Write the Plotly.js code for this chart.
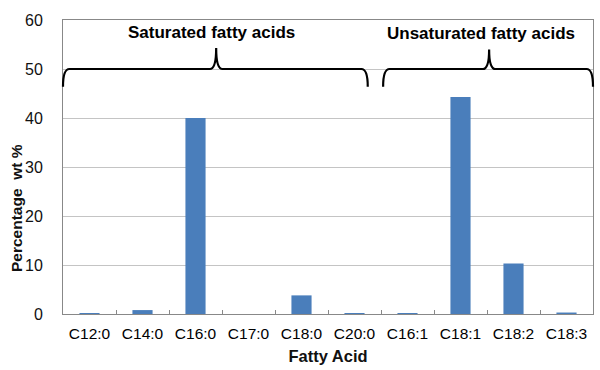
<!DOCTYPE html>
<html><head><meta charset="utf-8">
<script src="https://cdn.plot.ly/plotly-3.0.1.min.js"></script>
<style>html,body{margin:0;padding:0;background:#fff}</style>
</head><body><div id="chart" style="width:600px;height:370px"></div>
<script>
var categories = ["C12:0","C14:0","C16:0","C17:0","C18:0","C20:0","C16:1","C18:1","C18:2","C18:3"];
var percentWt = [0.2, 0.8, 40.0, 0.0, 3.8, 0.2, 0.2, 44.3, 10.3, 0.3];
var groupLabels = ["Saturated fatty acids", "Unsaturated fatty acids"];
var yTicks = [0,10,20,30,40,50,60];
var yTitle = "Percentage  wt %";

function brace(x0, x1, xm, yb, ytip, ypeak) {
  var c = 0.012;
  return 'M ' + x0 + ',' + ytip + ' Q ' + x0 + ',' + yb + ' ' + (x0 + c) + ',' + yb +
    ' L ' + (xm - c) + ',' + yb + ' Q ' + xm + ',' + yb + ' ' + xm + ',' + ypeak +
    ' Q ' + xm + ',' + yb + ' ' + (xm + c) + ',' + yb +
    ' L ' + (x1 - c) + ',' + yb + ' Q ' + x1 + ',' + yb + ' ' + x1 + ',' + ytip;
}

var trace = {
  type: 'bar', x: categories, y: percentWt,
  marker: {color: '#4a7ebb'}, width: 0.38, hoverinfo: 'x+y'
};

var layout = {
  width: 600, height: 370,
  margin: {l: 63, r: 7, t: 20, b: 56},
  paper_bgcolor: '#fff', plot_bgcolor: '#fff',
  font: {family: 'Arial, "Liberation Sans", sans-serif', size: 14, color: '#111'},
  showlegend: false,
  xaxis: {
    type: 'category', tickson: 'boundaries', ticks: 'inside', ticklen: 4,
    tickcolor: '#888', showline: true, linecolor: '#888', linewidth: 1, mirror: true,
    showgrid: false, tickfont: {size: 15.5, color: '#000'}, ticklabelstandoff: 5,
    title: {text: '<b>Fatty Acid</b>', font: {size: 16.5}, standoff: 9}
  },
  yaxis: {
    range: [0, 60], tickvals: yTicks, ticks: '', showline: true, linecolor: '#888',
    mirror: true, showgrid: true, gridcolor: '#c4c4c4', zeroline: false,
    tickfont: {size: 16}, ticklabelstandoff: 16
  },
  shapes: [
    {type: 'path', xref: 'paper', yref: 'y', path: brace(0, 0.575, 0.289, 50, 46.4, 54.3),
     line: {color: '#000', width: 2.2}},
    {type: 'path', xref: 'paper', yref: 'y', path: brace(0.604, 1.0, 0.804, 50, 46.4, 54.0),
     line: {color: '#000', width: 2.2}}
  ],
  annotations: [
    {xref: 'paper', yref: 'y', x: 0.280, y: 57.4, xanchor: 'center', yanchor: 'middle',
     text: '<b>' + groupLabels[0] + '</b>', showarrow: false, font: {size: 17, color: '#000'}},
    {xref: 'paper', yref: 'y', x: 0.789, y: 57.2, xanchor: 'center', yanchor: 'middle',
     text: '<b>' + groupLabels[1] + '</b>', showarrow: false, font: {size: 17, color: '#000'}},
    {xref: 'paper', yref: 'y', x: -0.088, y: 21.7, xanchor: 'center', yanchor: 'middle',
     textangle: -90, text: '<b>' + yTitle + '</b>', showarrow: false,
     font: {size: 15.5, color: '#111'}}
  ]
};

Plotly.newPlot('chart', [trace], layout, {displayModeBar: false, staticPlot: true});
</script></body></html>
